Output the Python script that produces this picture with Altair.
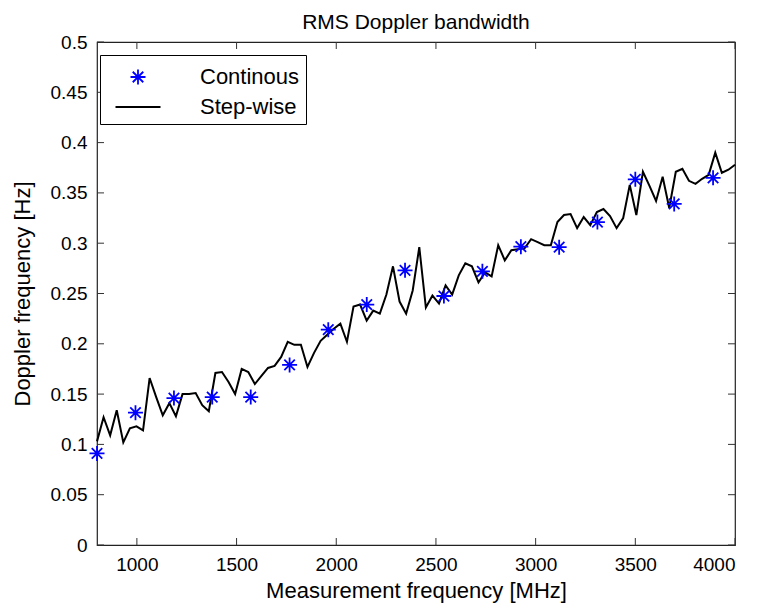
import altair as alt
import numpy as np
import pandas as pd

step_values = [
    0.103, 0.127, 0.109, 0.134, 0.102, 0.116, 0.118, 0.114, 0.166, 0.147,
    0.129, 0.141, 0.128, 0.150, 0.150, 0.151, 0.139, 0.133, 0.171, 0.172,
    0.162, 0.150, 0.175, 0.172, 0.160, 0.168, 0.176, 0.178, 0.187, 0.202,
    0.199, 0.199, 0.177, 0.191, 0.203, 0.209, 0.215, 0.220, 0.202, 0.237,
    0.239, 0.223, 0.233, 0.230, 0.249, 0.277, 0.242, 0.230, 0.253, 0.296,
    0.236, 0.248, 0.240, 0.258, 0.249, 0.268, 0.280, 0.277, 0.261, 0.271,
    0.267, 0.298, 0.283, 0.293, 0.294, 0.295, 0.304, 0.301, 0.298, 0.298,
    0.321, 0.328, 0.329, 0.315, 0.326, 0.318, 0.331, 0.334, 0.327, 0.315,
    0.325, 0.358, 0.328, 0.371, 0.357, 0.342, 0.366, 0.335, 0.371, 0.374,
    0.362, 0.359, 0.364, 0.368, 0.390, 0.370, 0.373, 0.378,
]
step_freq = np.linspace(800, 4000, len(step_values))

# Continuous measurement (blue asterisks)
cont_freq = [800, 993, 1186, 1378, 1571, 1766, 1960, 2153, 2345, 2540,
             2733, 2926, 3118, 3310, 3500, 3695, 3890]
cont_values = [0.091, 0.1315, 0.146, 0.147, 0.147, 0.179, 0.214, 0.239, 0.273,
               0.2475, 0.272, 0.2965, 0.296, 0.321, 0.3635, 0.339, 0.365]

series_names = ["Continous", "Step-wise"]
x_ticks = [1000, 1500, 2000, 2500, 3000, 3500, 4000]
y_ticks = [0, 0.05, 0.1, 0.15, 0.2, 0.25, 0.3, 0.35, 0.4, 0.45, 0.5]

df_step = pd.DataFrame({"freq": step_freq, "bw": step_values})
df_cont = pd.DataFrame({"freq": cont_freq, "bw": cont_values,
                        "series": [series_names[0]] * len(cont_freq)})
df_xt = pd.DataFrame({"freq": x_ticks})
df_yt = pd.DataFrame({"bw": y_ticks})

W, H = 638, 503
FONT = "Liberation Sans"
TL = 7

xscale = alt.Scale(domain=[800, 4000], nice=False, zero=False)
yscale = alt.Scale(domain=[0, 0.5], nice=False)
X = alt.X("freq:Q", scale=xscale,
          axis=alt.Axis(values=x_ticks, format="d", title="Measurement frequency [MHz]"))
Y = alt.Y("bw:Q", scale=yscale,
          axis=alt.Axis(values=y_ticks, format="~g", title="Doppler frequency [Hz]"))

star = ("M0,-0.5L0,0.5M-0.5,0L0.5,0"
        "M-0.35,-0.35L0.35,0.35M-0.35,0.35L0.35,-0.35")
dash = "M-1.5,0L1.5,0"

leg = alt.Legend(title=None, orient="none", legendX=3, legendY=13, padding=6,
                 symbolOffset=16, labelOffset=46, rowPadding=2,
                 symbolSize=900, symbolStrokeWidth=1.8,
                 labelFont=FONT, labelFontSize=22, labelColor="black",
                 strokeColor="black", fillColor="white", cornerRadius=0)

line = alt.Chart(df_step).mark_line(color="black", strokeWidth=2).encode(x=X, y=Y)

pts = alt.Chart(df_cont).mark_point(filled=False, size=900, strokeWidth=1.8, opacity=1).encode(
    x=X, y=Y,
    color=alt.Color("series:N", scale=alt.Scale(domain=series_names, range=["#0000ff", "#000000"]), legend=leg),
    shape=alt.Shape("series:N", scale=alt.Scale(domain=series_names, range=[star, dash]), legend=leg),
)

xt_bottom = alt.Chart(df_xt).mark_rule(color="#333333", strokeWidth=1).encode(
    x=X, y=alt.value(H), y2=alt.value(H - TL))
xt_top = alt.Chart(df_xt).mark_rule(color="#333333", strokeWidth=1).encode(
    x=X, y=alt.value(0), y2=alt.value(TL))
yt_left = alt.Chart(df_yt).mark_rule(color="#333333", strokeWidth=1).encode(
    y=Y, x=alt.value(0), x2=alt.value(TL))
yt_right = alt.Chart(df_yt).mark_rule(color="#333333", strokeWidth=1).encode(
    y=Y, x=alt.value(W), x2=alt.value(W - TL))

chart = alt.layer(xt_bottom, xt_top, yt_left, yt_right, line, pts).properties(
    width=W, height=H,
    autosize=alt.AutoSizeParams(type="none"),
    padding={"left": 89, "top": 34, "right": 17, "bottom": 60},
    title=alt.TitleParams("RMS Doppler bandwidth", font=FONT, fontSize=21,
                          fontWeight="normal", color="black", offset=0, anchor="middle"),
).configure_view(stroke="#222222", strokeWidth=1.2).configure_axis(
    domain=False, grid=False, ticks=False,
    labelFont=FONT, labelFontSize=19, labelColor="black", labelPadding=10,
    titleFont=FONT, titleFontSize=22, titleFontWeight="normal", titleColor="black",
).configure_axisX(titlePadding=6).configure_axisY(titlePadding=16)

chart.save("out.html", embed_options={"renderer": "svg", "actions": False})
